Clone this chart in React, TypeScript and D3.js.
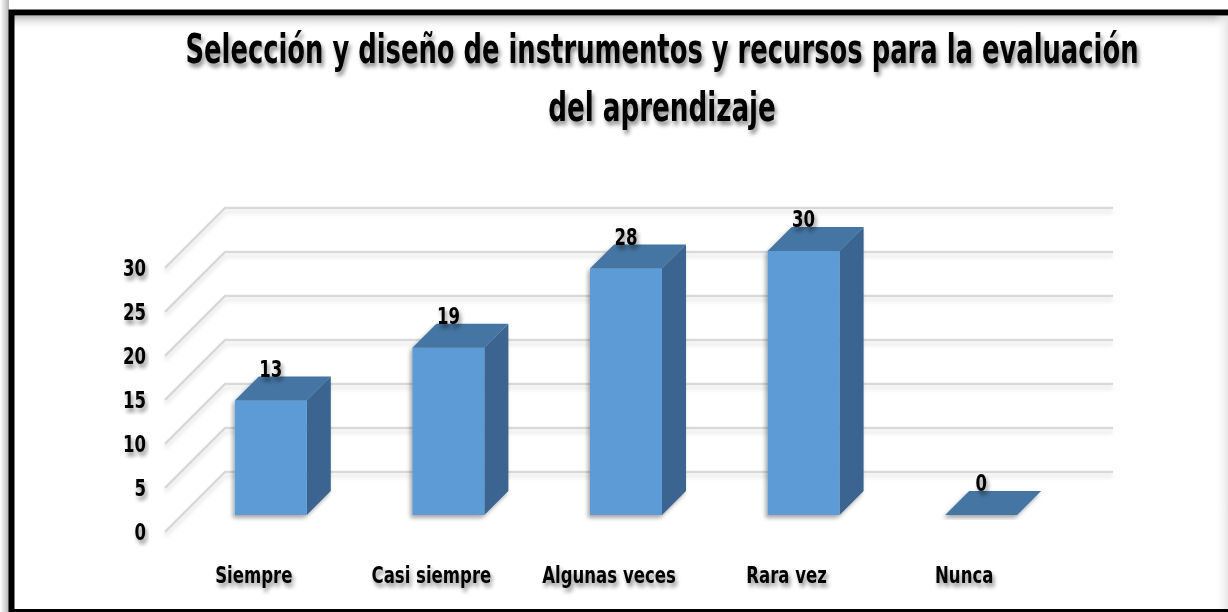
import React from 'react';
import * as d3 from 'd3';

const categories = ['Siempre', 'Casi siempre', 'Algunas veces', 'Rara vez', 'Nunca'];
const values = [13, 19, 28, 30, 0];
const yTicks = [0, 5, 10, 15, 20, 25, 30];
const titleLines = ['Selección y diseño de instrumentos y recursos para la evaluación', 'del aprendizaje'];

const FONT = '"DejaVu Sans Condensed", "Liberation Sans", sans-serif';

// text squeezed horizontally to a given factor (condensed look)
function SqText(props: { x: number; y: number; sx: number; size: number; anchor?: string; children: any; dy?: string }) {
  const { x, y, sx, size, anchor = 'middle', children, dy } = props;
  return (
    <text
      transform={`translate(${x},${y}) scale(${sx},1)`}
      fontSize={size}
      textAnchor={anchor}
      dy={dy}
    >
      {children}
    </text>
  );
}

export default function App() {
  const W = 1228, H = 612;
  const floorLeft = 165, floorRight = 1053;
  const depth = 60, barFront = 17, barDepth = 24, barHalf = 36;

  const x = d3.scaleBand<string>().domain(categories).range([floorLeft, floorRight]).padding(0);
  const y = d3.scaleLinear().domain([0, 30]).range([532, 532 - 264]);
  const proj = (px: number, v: number, d: number): [number, number] => [px + d, y(v) - d];
  const poly = (pts: [number, number][]) => pts.map(p => p.join(',')).join(' ');

  return (
    <svg width={W} height={H} style={{ position: 'absolute', left: 0, top: 0, background: '#fff' }}>
      <defs>
        <filter id="tshadow" x="-10%" y="-30%" width="120%" height="180%">
          <feGaussianBlur in="SourceAlpha" stdDeviation="2" />
          <feOffset dx="2" dy="4" result="ob" />
          <feComponentTransfer><feFuncA type="linear" slope="0.45" /></feComponentTransfer>
          <feMerge><feMergeNode /><feMergeNode in="SourceGraphic" /></feMerge>
        </filter>
        <filter id="gshadow" x="-5%" y="-200%" width="110%" height="500%">
          <feGaussianBlur in="SourceAlpha" stdDeviation="2" />
          <feOffset dx="0" dy="4" />
          <feComponentTransfer><feFuncA type="linear" slope="0.12" /></feComponentTransfer>
          <feMerge><feMergeNode /><feMergeNode in="SourceGraphic" /></feMerge>
        </filter>
        <filter id="bshadow" x="-20%" y="-20%" width="140%" height="140%">
          <feGaussianBlur in="SourceAlpha" stdDeviation="2" />
          <feOffset dx="-2" dy="3" />
          <feComponentTransfer><feFuncA type="linear" slope="0.35" /></feComponentTransfer>
          <feMerge><feMergeNode /><feMergeNode in="SourceGraphic" /></feMerge>
        </filter>
        <linearGradient id="topGrad" x1="0" y1="0" x2="0" y2="1">
          <stop offset="0" stopColor="#bdbdbd" />
          <stop offset="1" stopColor="#ffffff" stopOpacity="0" />
        </linearGradient>
        <linearGradient id="leftGrad" x1="0" y1="0" x2="1" y2="0">
          <stop offset="0" stopColor="#ffffff" />
          <stop offset="1" stopColor="#b5b5b5" />
        </linearGradient>
        <linearGradient id="rightGrad" x1="0" y1="0" x2="1" y2="0">
          <stop offset="0" stopColor="#ffffff" stopOpacity="0" />
          <stop offset="1" stopColor="#e6e6e6" />
        </linearGradient>
      </defs>

      {/* frame */}
      <rect x={0} y={0} width={9} height={H} fill="url(#leftGrad)" />
      <rect x={14} y={16} width={W - 14} height={14} fill="url(#topGrad)" />
      <rect x={W - 14} y={16} width={14} height={H - 19} fill="url(#rightGrad)" />
      <rect x={11.5} y={12.5} width={W + 20} height={599.5} fill="none" stroke="#000" strokeWidth={6} />

      {/* title */}
      <g filter="url(#tshadow)" fontFamily={FONT} fontWeight="bold" fill="#000">
        <SqText x={662} y={63} sx={0.70} size={41}>{titleLines[0]}</SqText>
        <SqText x={662} y={121} sx={0.71} size={41}>{titleLines[1]}</SqText>
      </g>

      {/* gridlines */}
      <g filter="url(#gshadow)" stroke="#d9d9d9" strokeWidth={2.5} fill="none">
        {yTicks.map(t => {
          const a = proj(floorLeft, t, 0), b = proj(floorLeft, t, depth), c = proj(floorRight, t, depth);
          return <polyline key={t} points={poly([a, b, c])} />;
        })}
      </g>

      {/* y tick labels */}
      <g filter="url(#tshadow)" fontFamily={FONT} fontWeight="bold" fill="#000">
        {yTicks.map(t => (
          <SqText key={t} x={146} y={y(t)} sx={0.8} size={23} anchor="end" dy="0.36em">{t}</SqText>
        ))}
      </g>

      {/* bars */}
      {categories.map((cat, i) => {
        const v = values[i];
        const c = (x(cat) as number) + x.bandwidth() / 2;
        const l = c - barHalf, r = c + barHalf;
        const d0 = barFront, d1 = barFront + barDepth;
        const front = [proj(l, v, d0), proj(r, v, d0), proj(r, 0, d0), proj(l, 0, d0)];
        const top = [proj(l, v, d0), proj(r, v, d0), proj(r, v, d1), proj(l, v, d1)];
        const side = [proj(r, v, d0), proj(r, 0, d0), proj(r, 0, d1), proj(r, v, d1)];
        return (
          <g key={cat} filter="url(#bshadow)">
            {v > 0 && <polygon points={poly(side)} fill="#3a6590" />}
            {v > 0 && <polygon points={poly(front)} fill="#5b9bd5" />}
            <polygon points={poly(top)} fill="#4575a3" />
          </g>
        );
      })}

      {/* value labels */}
      <g filter="url(#tshadow)" fontFamily={FONT} fontWeight="bold" fill="#000">
        {categories.map((cat, i) => {
          const c = (x(cat) as number) + x.bandwidth() / 2;
          const [px, py] = proj(c, values[i], barFront);
          return <SqText key={cat} x={px} y={py - 24} sx={0.8} size={23}>{values[i]}</SqText>;
        })}
      </g>

      {/* category labels */}
      <g filter="url(#tshadow)" fontFamily={FONT} fontWeight="bold" fill="#000">
        {categories.map(cat => (
          <SqText key={cat} x={(x(cat) as number) + x.bandwidth() / 2} y={583} sx={0.8} size={23}>{cat}</SqText>
        ))}
      </g>
    </svg>
  );
}
